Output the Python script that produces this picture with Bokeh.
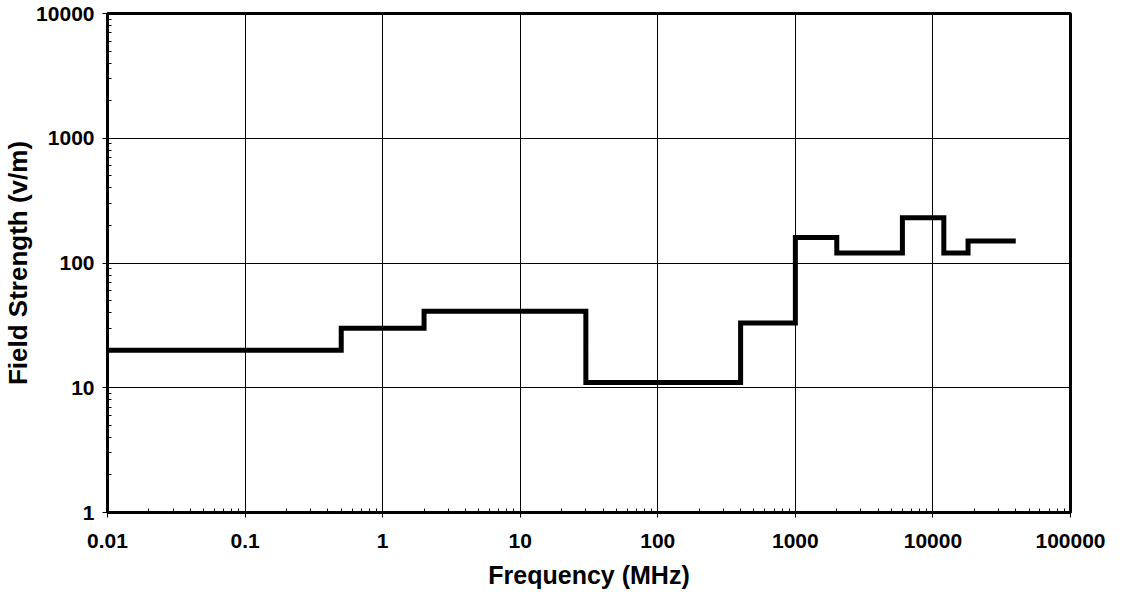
from bokeh.plotting import figure
from bokeh.models import Range1d, FixedTicker, CustomJSTickFormatter
from bokeh.embed import file_html
from bokeh.resources import INLINE

# Data (frequency band edges in MHz, field strength in V/m)
band_edges = [0.01, 0.5, 2, 30, 400, 1000, 2000, 6000, 12000, 18000, 40000]
field_strength = [20, 30, 41, 11, 33, 160, 120, 230, 120, 150]

x_ticks = [0.01, 0.1, 1, 10, 100, 1000, 10000, 100000]
y_ticks = [1, 10, 100, 1000, 10000]

x_minor = [m * d for d in x_ticks[:-1] for m in range(2, 10)]
y_minor = [m * d for d in y_ticks[:-1] for m in range(2, 10)]

FONT = "Liberation Sans"

p = figure(width=1107, height=598, x_axis_type="log", y_axis_type="log",
           x_range=Range1d(0.01, 100000), y_range=Range1d(1, 10000),
           output_backend="svg", toolbar_location=None,
           min_border_left=102, min_border_right=37, min_border_top=13, min_border_bottom=86)

p.background_fill_color = "white"
p.border_fill_color = "white"
p.outline_line_color = "black"
p.outline_line_width = 3

ys = field_strength + [field_strength[-1]]
p.step(x=band_edges, y=ys, mode="after", line_color="black", line_width=5, line_join="miter")

p.xaxis.ticker = FixedTicker(ticks=x_ticks, minor_ticks=x_minor)
p.yaxis.ticker = FixedTicker(ticks=y_ticks, minor_ticks=y_minor)
fmt = "return tick.toString();"
p.xaxis.formatter = CustomJSTickFormatter(code=fmt)
p.yaxis.formatter = CustomJSTickFormatter(code=fmt)

for ax in (p.xaxis, p.yaxis):
    ax.axis_line_color = "black"
    ax.axis_line_width = 3
    ax.major_tick_line_color = "black"
    ax.major_tick_line_width = 1
    ax.major_tick_out = 5
    ax.major_tick_in = 3
    ax.minor_tick_line_color = "black"
    ax.minor_tick_line_width = 1
    ax.minor_tick_out = 0
    ax.minor_tick_in = 4
    ax.major_label_text_font = FONT
    ax.major_label_text_font_style = "bold"
    ax.major_label_text_font_size = "21px"
    ax.major_label_text_color = "black"
    ax.axis_label_text_font = FONT
    ax.axis_label_text_font_style = "bold"
    ax.axis_label_text_color = "black"

p.xaxis.axis_label = "Frequency (MHz)"
p.yaxis.axis_label = "Field Strength (v/m)"
p.xaxis.axis_label_text_font_size = "25px"
p.yaxis.axis_label_text_font_size = "26px"
p.xaxis.major_label_standoff = 16
p.xaxis.axis_label_standoff = 10
p.yaxis.major_label_standoff = 8
p.yaxis.axis_label_standoff = 0

for g in (p.xgrid, p.ygrid):
    g.grid_line_color = "black"
    g.grid_line_width = 1
    g.grid_line_alpha = 1.0

open("out.html", "w").write(file_html(p, INLINE))
